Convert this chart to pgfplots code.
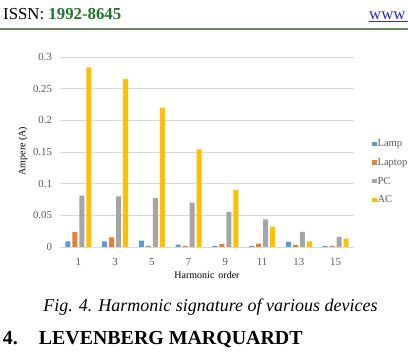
\documentclass[border=0pt]{standalone}
\usepackage{pgfplots}
\pgfplotsset{compat=1.18}
\usepackage{fontspec}
\setmainfont{Liberation Serif}

\definecolor{lampblue}{HTML}{5B9BD5}
\definecolor{laptoporange}{HTML}{ED7D31}
\definecolor{pcgray}{HTML}{A5A5A5}
\definecolor{acyellow}{HTML}{FFC000}
\definecolor{chartgrid}{HTML}{D9D9D9}
\definecolor{charttext}{HTML}{595959}
\definecolor{issngreen}{RGB}{30,120,40}
\definecolor{ruleline}{RGB}{105,135,95}
\definecolor{linkblue}{RGB}{40,40,200}

\begin{document}
\begin{tikzpicture}[x=1pt,y=1pt]
\useasboundingbox (0,0) rectangle (408,352);
\clip (0,0) rectangle (408,352);

% page header
\node[anchor=base west, inner sep=0pt] at (3,332)
  {\fontsize{16.8}{20}\selectfont ISSN: \textbf{\color{issngreen}1992-8645}};
\node[anchor=base west, inner sep=0pt, text=linkblue] (www) at (369,332)
  {\fontsize{16.8}{20}\selectfont www};
\draw[linkblue, line width=0.8pt] (369,330.5) -- (408,330.5);
\draw[ruleline, line width=1.2pt] (0,323) -- (408,323);

\begin{axis}[
  at={(60pt,105pt)}, anchor=south west,
  scale only axis, width=294pt, height=190pt,
  ybar=2pt, bar width=5pt,
  xmin=-0.5, xmax=7.5, ymin=0, ymax=0.3,
  xtick=data, xticklabels={1,3,5,7,9,11,13,15},
  ytick={0,0.05,0.1,0.15,0.2,0.25,0.3},
  /pgf/number format/fixed, /pgf/number format/precision=2,
  /pgf/number format/assume math mode=true,
  ymajorgrids, major grid style={chartgrid, line width=0.8pt},
  axis line style={draw=none}, tick style={draw=none},
  ticklabel style={font=\fontsize{10.8}{12}\selectfont, text=charttext},
  yticklabel style={anchor=east, xshift=-4.5pt},
  xticklabel style={anchor=base, yshift=-14.6pt},
  xlabel={Harmonic\hspace{0.4em}order}, ylabel={Ampere (A)},
  label style={font=\fontsize{11.5}{13}\selectfont, text=charttext},
  every axis x label/.style={at={(axis description cs:0.5,-0.147)}, anchor=center},
  every axis y label/.style={at={(axis description cs:-0.126,0.505)}, anchor=center, rotate=90},
  legend image code/.code={\fill[#1] (0pt,-2.2pt) rectangle (4.4pt,2.2pt);},
  legend style={at={(axis description cs:1,0.395)}, anchor=west, xshift=15pt,
    draw=none, fill=none, font=\fontsize{10.5}{12}\selectfont, text=charttext,
    row sep=8.4pt, nodes={inner sep=1pt},
    /tikz/every even column/.append style={column sep=2pt}},
  legend cell align=left,
]
\addplot[fill=lampblue, draw=none] coordinates
  {(0,0.0087) (1,0.0087) (2,0.010) (3,0.0037) (4,0.0016) (5,0.0016) (6,0.008) (7,0.0016)};
\addplot[fill=laptoporange, draw=none] coordinates
  {(0,0.024) (1,0.015) (2,0.0016) (3,0.0016) (4,0.005) (5,0.0053) (6,0.0035) (7,0.0016)};
\addplot[fill=pcgray, draw=none] coordinates
  {(0,0.081) (1,0.080) (2,0.077) (3,0.070) (4,0.055) (5,0.0435) (6,0.024) (7,0.016)};
\addplot[fill=acyellow, draw=none] coordinates
  {(0,0.2835) (1,0.2655) (2,0.220) (3,0.154) (4,0.090) (5,0.032) (6,0.0087) (7,0.0132)};
\legend{Lamp, Laptop, PC, AC}
\end{axis}

% figure caption and section heading
\node[anchor=base, inner sep=0pt] at (210.5,40.3)
  {\fontsize{18}{21}\selectfont\itshape Fig. 4. Harmonic signature of various devices};
\node[anchor=base west, inner sep=0pt] at (2.7,7)
  {\fontsize{19.9}{24}\selectfont\bfseries 4.};
\node[anchor=base west, inner sep=0pt] at (38.7,7)
  {\fontsize{19.9}{24}\selectfont\bfseries LEVENBERG MARQUARDT};
\end{tikzpicture}
\end{document}
